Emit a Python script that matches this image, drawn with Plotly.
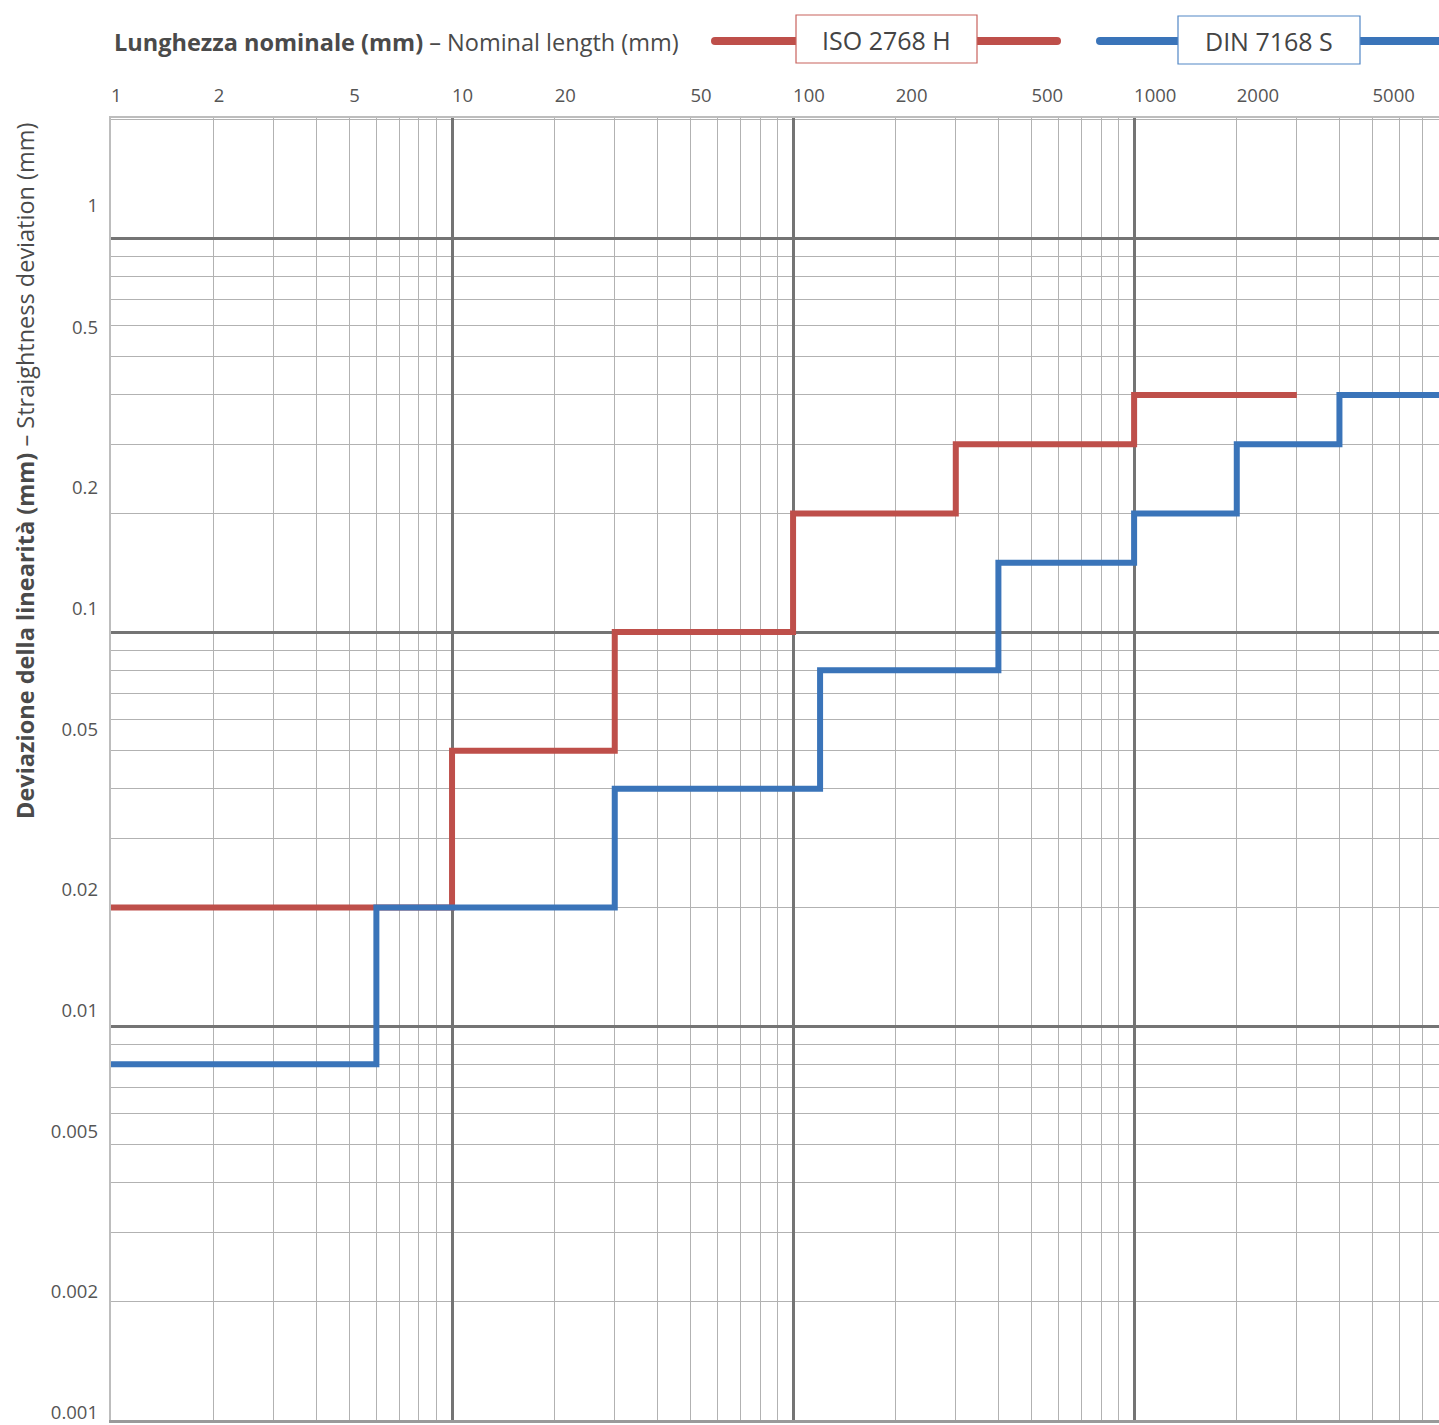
import plotly.graph_objects as go

# ---------------- data ----------------
iso_x = [1, 10, 30, 100, 300, 1000, 3000]
iso_y = [0.02, 0.05, 0.1, 0.2, 0.3, 0.4, 0.4]

din_x = [1, 6, 30, 120, 400, 1000, 2000, 4000, 10000]
din_y = [0.008, 0.02, 0.04, 0.08, 0.15, 0.2, 0.3, 0.4, 0.4]

x_tick_vals = [1, 2, 5, 10, 20, 50, 100, 200, 500, 1000, 2000, 5000]
x_tick_text = ["1", "2", "5", "10", "20", "50", "100", "200", "500", "1000", "2000", "5000"]
y_tick_vals = [0.001, 0.002, 0.005, 0.01, 0.02, 0.05, 0.1, 0.2, 0.5, 1]
y_tick_text = ["0.001", "0.002", "0.005", "0.01", "0.02", "0.05", "0.1", "0.2", "0.5", "1"]

x_major = [10, 100, 1000]
x_minor = [m * 10 ** k for k in range(4) for m in range(2, 10)]
y_major = [0.01, 0.1, 1]
y_minor = [m * 10.0 ** k for k in range(-3, 1) for m in range(2, 10)] + [2]

series_names = ["ISO 2768 H", "DIN 7168 S"]
RED = "#BE4F4A"
BLUE = "#3A74B9"

# ---------------- layout geometry ----------------
# body margin is removed by post_script, so figure origin = page origin
W, H = 1439, 1425
PLOT_L, PLOT_R, PLOT_T, PLOT_B = 111, 1439, 118, 1420
L = PLOT_L
T = PLOT_T
R = W - PLOT_R
B = H - PLOT_B
PW = W - L - R
PH = H - T - B


def px(x):
    """page x pixel -> paper"""
    return (x - L) / PW


def py(y):
    """page y pixel -> paper"""
    return (H - B - y) / PH


FONT = "Open Sans"
TXT = "#4a4a4a"
MINOR = "#b2b2b2"
MAJOR = "#747474"

x_range = [0, 3.894]
y_range = [-3, 0.305]
y_label_range = [-3.0177, 0.2187]

fig = go.Figure()
fig.add_trace(go.Scatter(x=iso_x, y=iso_y, mode="lines", line_shape="hv",
                         line=dict(color=RED, width=6), name=series_names[0],
                         showlegend=False))
fig.add_trace(go.Scatter(x=din_x, y=din_y, mode="lines", line_shape="hv",
                         line=dict(color=BLUE, width=6), name=series_names[1],
                         showlegend=False))
# invisible helpers so overlay axes render
fig.add_trace(go.Scatter(x=[1], y=[1], xaxis="x2", yaxis="y2", mode="markers",
                         marker=dict(opacity=0), hoverinfo="skip", showlegend=False))
fig.add_trace(go.Scatter(x=[1], y=[1], xaxis="x3", yaxis="y2", mode="markers",
                         marker=dict(opacity=0), hoverinfo="skip", showlegend=False))

fig.update_layout(
    width=W, height=H,
    template="none",
    paper_bgcolor="white", plot_bgcolor="white",
    margin=dict(l=L, r=R, t=T, b=B, autoexpand=False),
    showlegend=False,
    font=dict(family=FONT, color=TXT),
    xaxis=dict(
        type="log", range=x_range, side="top",
        tickmode="array", tickvals=x_major, showticklabels=False, ticks="",
        showgrid=True, gridcolor=MAJOR, gridwidth=2.5,
        minor=dict(tickmode="array", tickvals=x_minor, showgrid=True,
                   gridcolor=MINOR, gridwidth=1.3, ticks=""),
        showline=True, linecolor="#bdbdbd", linewidth=2, mirror=False,
        zeroline=False, automargin=False, fixedrange=True,
    ),
    xaxis2=dict(
        type="log", range=x_range, overlaying="x", side="bottom", anchor="y",
        showgrid=False, showticklabels=False, ticks="",
        showline=True, linecolor="#9a9a9a", linewidth=2.5,
        zeroline=False, automargin=False,
    ),
    xaxis3=dict(
        type="log", range=x_range, overlaying="x", side="top", anchor="y",
        tickmode="array", tickvals=x_tick_vals, ticktext=x_tick_text,
        ticklabelposition="outside right", ticklabelstandoff=11,
        ticklabeloverflow="allow",
        tickfont=dict(size=18.5, color="#555555", family=FONT),
        showgrid=False, ticks="", showline=False, zeroline=False, automargin=False,
    ),
    yaxis=dict(
        type="log", range=y_range,
        tickmode="array", tickvals=y_major, showticklabels=False, ticks="",
        showgrid=True, gridcolor=MAJOR, gridwidth=2.5,
        minor=dict(tickmode="array", tickvals=y_minor, showgrid=True,
                   gridcolor=MINOR, gridwidth=1.3, ticks=""),
        showline=True, linecolor="#bdbdbd", linewidth=2,
        zeroline=False, automargin=False, fixedrange=True,
    ),
    yaxis2=dict(
        type="log", range=y_label_range, overlaying="y", side="left", anchor="x",
        tickmode="array", tickvals=y_tick_vals, ticktext=y_tick_text,
        ticklabelstandoff=12, ticklabeloverflow="allow",
        tickfont=dict(size=18.5, color="#555555", family=FONT),
        showgrid=False, ticks="", showline=False, zeroline=False, automargin=False,
    ),
)

shapes = []
annotations = []

# axis titles
annotations.append(dict(
    xref="paper", yref="paper", x=px(112), y=py(42), xanchor="left", yanchor="middle",
    text="<b>Lunghezza nominale (mm)</b> – Nominal length (mm)",
    showarrow=False, font=dict(size=23.5, color=TXT, family=FONT)))
annotations.append(dict(
    xref="paper", yref="paper", x=px(25), y=py(471), xanchor="center", yanchor="middle",
    textangle=-90,
    text="<b>Deviazione della linearità (mm)</b> – Straightness deviation (mm)",
    showarrow=False, font=dict(size=23.5, color=TXT, family=FONT)))


def legend_item(x0, x1, bx0, bx1, by0, by1, color, border, label):
    shapes.append(dict(type="line", xref="paper", yref="paper",
                       x0=px(x0), x1=px(x1), y0=py(41), y1=py(41),
                       line=dict(color=color, width=8), layer="above"))
    for cx in (x0, x1):
        shapes.append(dict(type="circle", xref="paper", yref="paper",
                           x0=px(cx - 4), x1=px(cx + 4), y0=py(45), y1=py(37),
                           fillcolor=color, line=dict(width=0), layer="above"))
    shapes.append(dict(type="rect", xref="paper", yref="paper",
                       x0=px(bx0), x1=px(bx1), y0=py(by1), y1=py(by0),
                       fillcolor="white", line=dict(color=border, width=1.2), layer="above"))
    annotations.append(dict(xref="paper", yref="paper",
                            x=px((bx0 + bx1) / 2), y=py((by0 + by1) / 2 + 1),
                            xanchor="center", yanchor="middle", text=label, showarrow=False,
                            font=dict(size=25, color="#444444", family=FONT)))


legend_item(715, 1057, 796, 977, 15, 63, RED, "#C8625D", series_names[0])
legend_item(1100, 1460, 1178, 1360, 16, 64, BLUE, "#5287C6", series_names[1])

fig.update_layout(shapes=shapes, annotations=annotations)

fig.write_html(
    "out.html",
    config=dict(displayModeBar=False),
    post_script=("document.body.style.margin='0';"
                 "document.body.style.overflow='hidden';"
                 "document.documentElement.style.overflow='hidden';"),
)
